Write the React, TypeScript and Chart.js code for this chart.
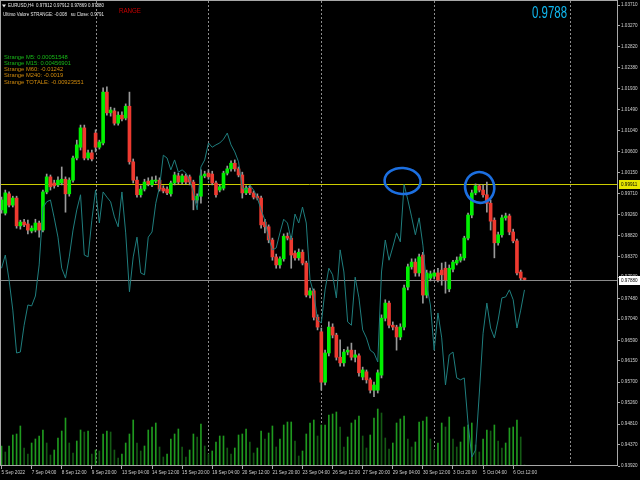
import React, { useEffect, useRef } from 'react';
import { Chart, registerables } from 'chart.js';

Chart.register(...registerables);

// ---- data (EURUSD H4) ----
const OPEN = [
  0.9936, 0.9929, 0.9970, 0.9946, 0.9961, 0.9902, 0.9910, 0.9906, 0.9891, 0.9893,
  0.9908, 0.9893, 0.9974, 1.0006, 0.9993, 0.9989, 0.9993, 1.0001, 0.9970, 0.9999,
  1.0046, 1.0069, 1.0110, 1.0046, 1.0057, 1.0099, 1.0069, 1.0078, 1.0186, 1.0142,
  1.0146, 1.0120, 1.0137, 1.0131, 1.0156, 1.0038, 0.9999, 0.9968, 0.9980, 0.9997,
  0.9989, 0.9997, 0.9999, 0.9982, 0.9980, 0.9970, 0.9993, 1.0008, 0.9995, 1.0008,
  1.0006, 0.9995, 0.9957, 0.9965, 1.0008, 1.0014, 1.0012, 0.9993, 0.9978, 0.9982,
  1.0014, 1.0023, 1.0035, 1.0023, 1.0010, 0.9972, 0.9982, 0.9972, 0.9965, 0.9961,
  0.9910, 0.9900, 0.9872, 0.9836, 0.9819, 0.9832, 0.9880, 0.9876, 0.9844, 0.9834,
  0.9846, 0.9823, 0.9755, 0.9764, 0.9708, 0.9677, 0.9570, 0.9632, 0.9687, 0.9670,
  0.9623, 0.9611, 0.9634, 0.9638, 0.9623, 0.9626, 0.9581, 0.9592, 0.9575, 0.9553,
  0.9553, 0.9585, 0.9706, 0.9738, 0.9691, 0.9687, 0.9666, 0.9687, 0.9772, 0.9815,
  0.9825, 0.9802, 0.9840, 0.9755, 0.9791, 0.9795, 0.9802, 0.9808, 0.9812, 0.9768,
  0.9810, 0.9823, 0.9829, 0.9834, 0.9876, 0.9925, 0.9972, 0.9987, 0.9978, 0.9968,
  0.9950, 0.9914, 0.9866, 0.9883, 0.9919, 0.9923, 0.9889, 0.9870, 0.9804, 0.97912,
];
const HIGH = [
  0.9963, 0.9978, 0.9974, 0.9965, 0.9965, 0.9914, 0.9916, 0.9914, 0.9902, 0.9916,
  0.9912, 0.9978, 1.0012, 1.0010, 0.9999, 1.0006, 1.0027, 1.0006, 1.0004, 1.0050,
  1.0084, 1.0116, 1.0116, 1.0063, 1.0063, 1.0106, 1.0084, 1.0195, 1.0197, 1.0154,
  1.0152, 1.0144, 1.0144, 1.0161, 1.0186, 1.0044, 1.0006, 0.9987, 1.0001, 1.0004,
  1.0006, 1.0008, 1.0004, 0.9987, 0.9985, 0.9997, 1.0016, 1.0014, 1.0012, 1.0012,
  1.0010, 0.9999, 0.9970, 1.0021, 1.0018, 1.0021, 1.0018, 0.9997, 0.9989, 1.0018,
  1.0029, 1.0040, 1.0042, 1.0027, 1.0016, 0.9987, 0.9987, 0.9976, 0.9970, 0.9965,
  0.9916, 0.9904, 0.9876, 0.9842, 0.9836, 0.9885, 0.9887, 0.9880, 0.9849, 0.9853,
  0.9851, 0.9827, 0.9770, 0.9768, 0.9713, 0.9685, 0.9638, 0.9698, 0.9694, 0.9674,
  0.9660, 0.9640, 0.9645, 0.9653, 0.9638, 0.9630, 0.9602, 0.9596, 0.9579, 0.9570,
  0.9596, 0.9713, 0.9745, 0.9742, 0.9698, 0.9691, 0.9694, 0.9776, 0.9821, 0.9832,
  0.9832, 0.9842, 0.9846, 0.9808, 0.9806, 0.9808, 0.9812, 0.9823, 0.9825, 0.9819,
  0.9829, 0.9836, 0.9842, 0.9880, 0.9929, 0.9978, 0.9991, 0.9990, 0.9989, 0.9995,
  0.9957, 0.9919, 0.9889, 0.9925, 0.9929, 0.9927, 0.9895, 0.9874, 0.9808, 0.97912,
];
const LOW = [
  0.9929, 0.9925, 0.9942, 0.9942, 0.9897, 0.9895, 0.9900, 0.9885, 0.9887, 0.9889,
  0.9878, 0.9889, 0.9970, 0.9978, 0.9982, 0.9985, 0.9989, 0.9931, 0.9965, 0.9995,
  1.0042, 1.0063, 1.0042, 1.0042, 1.0040, 1.0059, 1.0065, 1.0074, 1.0137, 1.0135,
  1.0116, 1.0116, 1.0125, 1.0127, 1.0033, 0.9993, 0.9963, 0.9963, 0.9976, 0.9987,
  0.9985, 0.9993, 0.9976, 0.9972, 0.9968, 0.9965, 0.9989, 0.9991, 0.9991, 0.9991,
  0.9989, 0.9936, 0.9950, 0.9950, 1.0004, 1.0001, 0.9989, 0.9963, 0.9974, 0.9978,
  1.0010, 1.0018, 1.0018, 1.0006, 0.9961, 0.9968, 0.9968, 0.9959, 0.9957, 0.9897,
  0.9887, 0.9866, 0.9829, 0.9812, 0.9812, 0.9827, 0.9872, 0.9812, 0.9829, 0.9829,
  0.9819, 0.9751, 0.9749, 0.9702, 0.9681, 0.9553, 0.9564, 0.9626, 0.9664, 0.9617,
  0.9604, 0.9604, 0.9628, 0.9617, 0.9613, 0.9583, 0.9575, 0.9568, 0.9547, 0.9539,
  0.9547, 0.9579, 0.9700, 0.9685, 0.9681, 0.9638, 0.9660, 0.9681, 0.9766, 0.9810,
  0.9795, 0.9795, 0.9738, 0.9749, 0.9785, 0.9789, 0.9783, 0.9776, 0.9759, 0.9762,
  0.9804, 0.9819, 0.9825, 0.9829, 0.9872, 0.9919, 0.9968, 0.9974, 0.9963, 0.9931,
  0.9893, 0.9834, 0.9861, 0.9878, 0.9914, 0.9883, 0.9866, 0.9798, 0.9787, 0.97869,
];
const CLOSE = [
  0.9957, 0.9972, 0.9946, 0.9961, 0.9902, 0.9910, 0.9904, 0.9893, 0.9897, 0.9908,
  0.9893, 0.9974, 1.0006, 0.9985, 0.9987, 0.9999, 1.0001, 0.9970, 0.9999, 1.0046,
  1.0074, 1.0110, 1.0046, 1.0057, 1.0044, 1.0069, 1.0080, 1.0186, 1.0142, 1.0148,
  1.0120, 1.0137, 1.0129, 1.0156, 1.0038, 0.9999, 0.9968, 0.9980, 0.9995, 0.9991,
  0.9999, 0.9999, 0.9980, 0.9976, 0.9972, 0.9993, 1.0010, 0.9995, 1.0008, 0.9995,
  0.9995, 0.9957, 0.9965, 1.0008, 1.0012, 1.0006, 0.9993, 0.9968, 0.9985, 1.0014,
  1.0023, 1.0035, 1.0023, 1.0010, 0.9972, 0.9982, 0.9972, 0.9963, 0.9961, 0.9904,
  0.9900, 0.9872, 0.9836, 0.9819, 0.9832, 0.9880, 0.9876, 0.9840, 0.9834, 0.9846,
  0.9823, 0.9755, 0.9764, 0.9708, 0.9687, 0.9570, 0.9632, 0.9687, 0.9670, 0.9623,
  0.9611, 0.9634, 0.9638, 0.9623, 0.9628, 0.9590, 0.9596, 0.9575, 0.9553, 0.9564,
  0.9590, 0.9706, 0.9738, 0.9691, 0.9687, 0.9666, 0.9687, 0.9770, 0.9815, 0.9825,
  0.9802, 0.9836, 0.9755, 0.9802, 0.9800, 0.9802, 0.9787, 0.9798, 0.9787, 0.9812,
  0.9825, 0.9829, 0.9836, 0.9876, 0.9925, 0.9972, 0.9987, 0.9978, 0.9968, 0.9950,
  0.9912, 0.9866, 0.9883, 0.9919, 0.9923, 0.9889, 0.9870, 0.9802, 0.97912, 0.9788,
];
// STRANGE indicator line (drawn in price units on the same scale)
const STRANGE_LINE = [
  0.9812, 0.9840, 0.9787, 0.9723, 0.9632, 0.9634, 0.9691, 0.9734, 0.9732, 0.9753,
  0.9819, 0.9940, 0.9953, 0.9957, 0.9919, 0.9878, 0.9812, 0.9791, 0.9836, 0.9893,
  0.9936, 0.9968, 0.9840, 0.9836, 0.9914, 0.9978, 0.9908, 0.9974, 0.9963, 0.9953,
  0.9921, 0.9900, 0.9974, 0.9887, 0.9762, 0.9836, 0.9878, 0.9802, 0.9798, 0.9878,
  0.9889, 0.9950, 0.9985, 1.0052, 1.0046, 1.0021, 1.0042, 1.0016, 1.0021, 1.0014,
  0.9999, 0.9974, 0.9936, 1.0027, 1.0042, 1.0078, 1.0069, 1.0074, 1.0078, 1.0086,
  1.0099, 1.0074, 1.0059, 1.0038, 0.9982, 0.9978, 0.9989, 0.9978, 0.9961, 0.9936,
  0.9914, 0.9876, 0.9851, 0.9855, 0.9887, 0.9916, 0.9908, 0.9872, 0.9927, 0.9908,
  0.9942, 0.9908, 0.9787, 0.9759, 0.9702, 0.9696, 0.9766, 0.9812, 0.9798, 0.9749,
  0.9851, 0.9804, 0.9698, 0.9691, 0.9793, 0.9749, 0.9681, 0.9664, 0.9638, 0.9632,
  0.9613, 0.9804, 0.9872, 0.9829, 0.9857, 0.9887, 0.9868, 0.9990, 0.9957, 0.9921,
  0.9883, 0.9919, 0.9861, 0.9776, 0.9734, 0.9638, 0.9717, 0.9664, 0.9564, 0.9628,
  0.9634, 0.9579, 0.9575, 0.9579, 0.9483, 0.9411, 0.9426, 0.9547, 0.9674, 0.9738,
  0.9685, 0.9664, 0.9702, 0.9749, 0.9751, 0.9766, 0.9745, 0.9685, 0.9723, 0.9766,
];
const VOLUME = [
  5000, 3500, 5000, 7750, 8000, 10000, 4500, 3000, 5750, 6750,
  7500, 9000, 5750, 2750, 4000, 7000, 8750, 12000, 5750, 3250,
  6250, 9000, 8500, 8750, 3000, 4000, 3750, 8000, 8750, 8500,
  4000, 2000, 3000, 5750, 8000, 11500, 5750, 3750, 5000, 9000,
  9750, 10750, 4750, 2250, 3000, 6750, 8000, 9250, 4750, 2250,
  4000, 8000, 7250, 10500, 5000, 3000, 3750, 6000, 7500, 7500,
  4500, 3000, 4500, 7750, 8000, 9250, 6000, 3250, 4500, 8750,
  6750, 8250, 10000, 4750, 6750, 10250, 11000, 11000, 6250, 2500,
  3750, 8000, 10750, 11500, 7500, 10250, 10250, 12750, 13000, 13500,
  9750, 4750, 7250, 10750, 11500, 12500, 7500, 4500, 7750, 12000,
  14250, 13250, 7000, 4250, 5750, 10750, 11750, 12500, 6750, 4750,
  6000, 11000, 11250, 12250, 6750, 4000, 5750, 10750, 9750, 12250,
  6750, 4750, 6000, 9750, 10250, 10750, 5250, 3500, 6750, 9000,
  8750, 10250, 6250, 4500, 5750, 9500, 9750, 11500, 7250, 250,
];
const X_LABEL_BARS = [0, 8, 16, 24, 32, 40, 48, 56, 64, 72, 80, 88, 96, 104, 112, 120, 128, 136];
const X_LABELS = [
  '5 Sep 2022', '7 Sep 04:00', '8 Sep 12:00', '9 Sep 20:00', '13 Sep 04:00', '14 Sep 12:00',
  '15 Sep 20:00', '19 Sep 04:00', '20 Sep 12:00', '21 Sep 20:00', '23 Sep 04:00', '26 Sep 12:00',
  '27 Sep 20:00', '29 Sep 04:00', '30 Sep 12:00', '3 Oct 20:00', '5 Oct 04:00', '6 Oct 12:00',
];
const PRICE_TICKS = [
  1.0371, 1.0327, 1.0282, 1.0238, 1.0193, 1.0149, 1.0104, 1.006, 1.0015, 0.9971, 0.9926, 0.9882,
  0.9837, 0.9793, 0.9748, 0.9704, 0.9659, 0.9615, 0.957, 0.9526, 0.9481, 0.9437, 0.9392,
];
const PRICE_MIN = 0.9392;
const PRICE_MAX = 1.03795;
const SEPARATOR_BARS = [25, 55, 85, 115, 151];
const LEVEL_PRICE = 0.99911;
const BID_PRICE = 0.9788;
const MARK_CIRCLES = [
  { bar: 106.6, price: 0.99972 },
  { bar: 127.1, price: 0.99835 },
];
const STRANGE_TEXTS = [
  'Strange M5: 0.00051548',
  'Strange M15: 0.00456901',
  'Strange M60: -0.01242',
  'Strange M240: -0.0019',
  'Strange TOTALE: -0.00923551',
];

const FONT = '"Liberation Sans", Arial, sans-serif';
const BULL = '#00f000';
const BEAR = '#ee3a30';

export default function App() {
  const ref = useRef<HTMLCanvasElement>(null);

  useEffect(() => {
    document.body.style.margin = '0';
    document.body.style.background = '#000';
    const canvas = ref.current;
    if (!canvas) return;

    const bodyColors = OPEN.map((o, i) => (CLOSE[i] >= o ? BULL : BEAR));
    const volColors = VOLUME.map((v, i) => (i === 0 || v >= VOLUME[i - 1] ? '#1f9a1f' : '#145a14'));

    const mtPlugin = {
      id: 'mtPlugin',
      beforeDraw(chart: any) {
        const { ctx, width, height } = chart;
        ctx.save();
        ctx.fillStyle = '#000';
        ctx.fillRect(0, 0, width, height);
        ctx.restore();
      },
      beforeDatasetsDraw(chart: any) {
        const { ctx, chartArea: a, scales } = chart;
        const xs = scales.x;
        const ys = scales.y;
        ctx.save();
        ctx.lineWidth = 1;
        ctx.strokeStyle = '#8c8c8c';
        ctx.setLineDash([2, 2]);
        SEPARATOR_BARS.forEach((b) => {
          const px = Math.round(xs.getPixelForValue(b)) + 0.5;
          ctx.beginPath();
          ctx.moveTo(px, a.top);
          ctx.lineTo(px, a.bottom);
          ctx.stroke();
        });
        ctx.setLineDash([]);
        const ly = Math.round(ys.getPixelForValue(LEVEL_PRICE)) + 0.5;
        ctx.strokeStyle = '#cccc00';
        ctx.beginPath();
        ctx.moveTo(a.left, ly);
        ctx.lineTo(a.right, ly);
        ctx.stroke();
        const by = Math.round(ys.getPixelForValue(BID_PRICE)) + 0.5;
        ctx.strokeStyle = '#8a8a8a';
        ctx.beginPath();
        ctx.moveTo(a.left, by);
        ctx.lineTo(a.right, by);
        ctx.stroke();
        ctx.restore();
      },
      afterDraw(chart: any) {
        const { ctx, chartArea: a, scales } = chart;
        const xs = scales.x;
        const ys = scales.y;
        ctx.save();
        // frame
        ctx.strokeStyle = '#a8a8a8';
        ctx.lineWidth = 1;
        ctx.strokeRect(a.left - 0.5, a.top - 0.5, a.right - a.left, a.bottom - a.top);

        // price boxes on the axis
        const box = (price: number, bg: string, text: string) => {
          const py = ys.getPixelForValue(price);
          ctx.fillStyle = bg;
          ctx.fillRect(a.right + 1, Math.round(py) - 4, 21, 9);
          ctx.fillStyle = '#000';
          ctx.font = `4.6px ${FONT}`;
          ctx.textBaseline = 'middle';
          ctx.textAlign = 'left';
          ctx.fillText(text, a.right + 3, Math.round(py) + 0.5, 18);
        };
        box(LEVEL_PRICE, '#e6e600', LEVEL_PRICE.toFixed(5));
        box(BID_PRICE, '#ffffff', BID_PRICE.toFixed(5));

        // header
        ctx.textBaseline = 'middle';
        ctx.textAlign = 'left';
        ctx.fillStyle = '#e8e8e8';
        ctx.beginPath();
        ctx.moveTo(2, 4.5);
        ctx.lineTo(6, 4.5);
        ctx.lineTo(4, 7.5);
        ctx.closePath();
        ctx.fill();
        ctx.font = `4.6px ${FONT}`;
        ctx.fillText(
          `EURUSD,H4  ${OPEN[OPEN.length - 1].toFixed(5)} ${HIGH[HIGH.length - 1].toFixed(5)} ${LOW[LOW.length - 1].toFixed(5)} ${CLOSE[CLOSE.length - 1].toFixed(5)}`,
          8, 6, 96);
        ctx.fillText('Ultimo Valore STRANGE: -0.008   su Close: 0.9791', 3, 15, 101);

        ctx.fillStyle = '#c80000';
        ctx.font = `7.5px ${FONT}`;
        ctx.fillText('RANGE', 119, 10.5, 22);

        ctx.fillStyle = '#10b8f0';
        ctx.font = `17px ${FONT}`;
        ctx.fillText(BID_PRICE.toFixed(4), 532, 13.5, 35);

        const ys0 = [57, 63, 69, 75.5, 82];
        STRANGE_TEXTS.forEach((t, i) => {
          ctx.fillStyle = i < 2 ? '#18b818' : '#d08a0c';
          ctx.font = `5.8px ${FONT}`;
          ctx.fillText(t, 4, ys0[i]);
        });

        // hand-drawn marks
        ctx.strokeStyle = '#1c6fe0';
        ctx.lineWidth = 2.6;
        const c1 = MARK_CIRCLES[0];
        const c2 = MARK_CIRCLES[1];
        ctx.beginPath();
        ctx.ellipse(xs.getPixelForValue(c1.bar), ys.getPixelForValue(c1.price), 18, 13, 0.05, 0, Math.PI * 2);
        ctx.stroke();
        ctx.beginPath();
        ctx.ellipse(xs.getPixelForValue(c2.bar), ys.getPixelForValue(c2.price), 14.5, 15.5, -0.3, 0, Math.PI * 2);
        ctx.stroke();
        ctx.restore();
      },
    };

    const chart = new Chart(canvas, {
      type: 'bar',
      data: {
        datasets: [
          {
            type: 'line',
            label: 'STRANGE',
            data: STRANGE_LINE.map((v, i) => ({ x: i, y: v })),
            borderColor: '#1f7e7e',
            borderWidth: 1,
            pointRadius: 0,
            tension: 0,
            order: 0,
            yAxisID: 'y',
          } as any,
          {
            label: 'body',
            data: OPEN.map((o, i) => ({ x: i, y: [o, CLOSE[i]] })),
            backgroundColor: bodyColors,
            barThickness: 3,
            minBarLength: 1,
            grouped: false,
            order: 1,
            yAxisID: 'y',
          },
          {
            label: 'wick',
            data: LOW.map((l, i) => ({ x: i, y: [l, HIGH[i]] })),
            backgroundColor: '#9a9a9a',
            barThickness: 1,
            minBarLength: 1,
            grouped: false,
            order: 2,
            yAxisID: 'y',
          },
          {
            label: 'volume',
            data: VOLUME.map((v, i) => ({ x: i, y: v })),
            backgroundColor: volColors,
            barThickness: 1,
            grouped: false,
            order: 3,
            yAxisID: 'yv',
          },
        ] as any,
      },
      options: {
        responsive: false,
        animation: false,
        devicePixelRatio: 1,
        events: [],
        layout: { padding: { left: 1, top: 1, right: 0, bottom: 0 } },
        plugins: { legend: { display: false }, tooltip: { enabled: false } },
        scales: {
          x: {
            type: 'linear',
            min: -0.1435,
            max: 163.86,
            offset: false,
            position: 'bottom',
            border: { display: false },
            grid: { display: true, offset: false, drawOnChartArea: false, drawTicks: true, tickLength: 3, color: '#a8a8a8' },
            afterBuildTicks: (s: any) => {
              s.ticks = X_LABEL_BARS.map((v) => ({ value: v }));
            },
            afterFit: (s: any) => {
              s.height = 14;
              s.paddingLeft = 0;
              s.paddingRight = 0;
            },
            ticks: {
              autoSkip: false,
              maxRotation: 0,
              minRotation: 0,
              align: 'start',
              padding: 1,
              color: '#d0d0d0',
              font: { size: 4.6, family: FONT },
              callback: (_v: any, i: number) => X_LABELS[i],
            },
          },
          y: {
            type: 'linear',
            position: 'right',
            min: PRICE_MIN,
            max: PRICE_MAX,
            border: { display: false },
            grid: { display: true, drawOnChartArea: false, drawTicks: true, tickLength: 2, color: '#a8a8a8' },
            afterBuildTicks: (s: any) => {
              s.ticks = PRICE_TICKS.map((v) => ({ value: v }));
            },
            afterFit: (s: any) => {
              s.width = 22;
              s.paddingTop = 0;
              s.paddingBottom = 0;
            },
            ticks: {
              autoSkip: false,
              padding: 1,
              color: '#d0d0d0',
              font: { size: 4.6, family: FONT },
              callback: (v: any) => Number(v).toFixed(5),
            },
          },
          yv: {
            type: 'linear',
            display: false,
            min: 0,
            max: 116250,
          },
        },
      } as any,
      plugins: [mtPlugin],
    });

    return () => chart.destroy();
  }, []);

  return <canvas ref={ref} width={640} height={480} style={{ display: 'block' }} />;
}
